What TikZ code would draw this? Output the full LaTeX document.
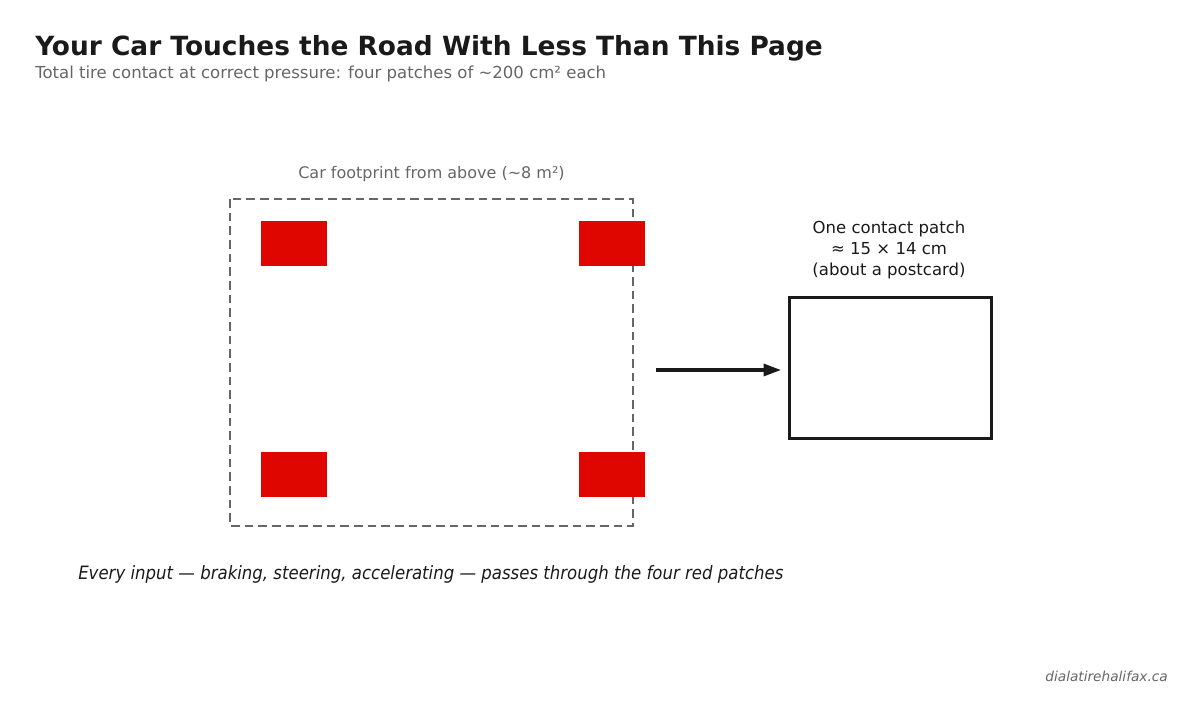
\documentclass[tikz,border=0pt]{standalone}
\usepackage{fontspec}
\setmainfont{DejaVu Sans}
\newfontfamily\condit[FakeStretch=0.9]{DejaVu Sans}
\usetikzlibrary{arrows.meta}
\definecolor{ink}{HTML}{1A1A1A}
\definecolor{muted}{HTML}{666666}
\definecolor{tire}{HTML}{E00600}
\tikzset{
  patch/.style={fill=tire,draw=none,minimum width=49.5pt,minimum height=33.75pt,inner sep=0pt,anchor=north west},
  footprint/.style={draw=muted,line width=2pt,dash pattern=on 6.5pt off 3.75pt},
  patchbox/.style={draw=ink,line width=2pt,minimum width=151.5pt,minimum height=105.75pt,inner sep=0pt,anchor=north west},
  lbl/.style={inner sep=0pt,anchor=base},
}
\begin{document}
\begin{tikzpicture}[x=0.75pt,y=-0.75pt]
\useasboundingbox (0,0) rectangle (1204,717);
\node[lbl,anchor=base west,text=ink,font=\bfseries\fontsize{19.8}{23}\selectfont] (title) at (35,56) {Your Car Touches the Road With Less Than This Page};
\node[lbl,anchor=base west,text=muted,font=\fontsize{12.4}{15}\selectfont] (sub) at (35,79) {Total tire contact at correct pressure: four patches of \textasciitilde200 cm² each};
\node[lbl,text=muted,font=\fontsize{12}{14}\selectfont] (carlbl) at (431.5,178) {Car footprint from above (\textasciitilde8 m²)};
\draw[footprint] (230,199) rectangle (633,526);
\node[patch] (fl) at (261,221) {};
\node[patch] (fr) at (579,221) {};
\node[patch] (rl) at (261,452) {};
\node[patch] (rr) at (579,452) {};
\node[lbl,text=ink,font=\fontsize{12.4}{15.75}\selectfont,align=center,anchor=north] (plbl) at (889,221) {One contact patch\\≈ 15 × 14 cm\\(about a postcard)};
\node[patchbox] (pbox) at (788,296) {};
\coordinate (as) at (656,370);
\coordinate (ae) at (781,370);
\draw[ink,line width=2.3pt,-{Triangle[length=13pt,width=9pt]}] (as) -- (ae);
\node[lbl,anchor=base west,text=ink,font=\condit\itshape\fontsize{13.8}{16}\selectfont] (note) at (78,579) {Every input — braking, steering, accelerating — passes through the four red patches};
\node[lbl,anchor=base east,text=muted,font=\itshape\fontsize{10.25}{12}\selectfont] (foot) at (1168,681) {dialatirehalifax.ca};
\end{tikzpicture}
\end{document}
